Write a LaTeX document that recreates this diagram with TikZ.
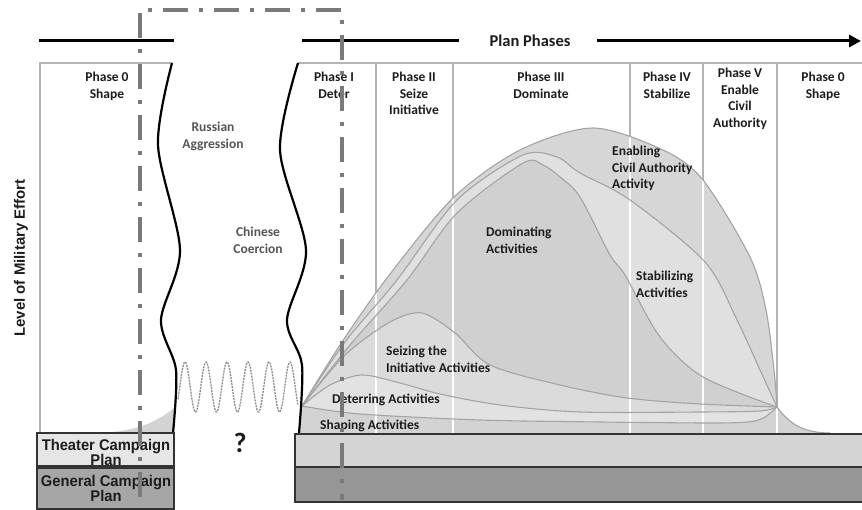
\documentclass[tikz,border=0pt]{standalone}
\usepackage{fontspec}
\usepackage{graphicx}
\setmainfont{Carlito}
\newfontfamily\arialf{Liberation Sans}
\usetikzlibrary{arrows.meta}
\definecolor{frameg}{HTML}{B4B4B4}
\definecolor{curveg}{HTML}{A4A4A4}
\definecolor{ddgray}{HTML}{7A7A7A}
\definecolor{sineg}{HTML}{8E8E8E}
\definecolor{fenab}{HTML}{D6D6D6}
\definecolor{fstab}{HTML}{E0E0E0}
\definecolor{fdom}{HTML}{D0D0D0}
\definecolor{fseize}{HTML}{DBDBDB}
\definecolor{fdeter}{HTML}{E2E2E2}
\definecolor{fshape}{HTML}{D3D3D3}
\definecolor{bartl}{HTML}{E6E6E6}
\definecolor{bartr}{HTML}{D4D4D4}
\definecolor{bargl}{HTML}{A6A6A6}
\definecolor{bargr}{HTML}{969696}
\definecolor{txt}{HTML}{1C1C1C}
\definecolor{txtg}{HTML}{555555}
\begin{document}
\begin{tikzpicture}[x=1pt,y=-1pt,
  phase/.style={font=\bfseries\fontsize{13.5}{16.5}\selectfont, text=txt, align=center, anchor=north, inner sep=0pt},
  act/.style={font=\bfseries\fontsize{13.5}{16.5}\selectfont, text=txt, align=left, anchor=north west, inner sep=0pt},
  conflict/.style={font=\bfseries\fontsize{13.5}{16.5}\selectfont, text=txtg, align=center, anchor=north, inner sep=0pt},
  frameline/.style={draw=frameg, line width=1.3pt},
  curve/.style={draw=curveg, line width=1.1pt},
  wavy/.style={draw=black, line width=2.2pt},
  sine/.style={draw=sineg, line width=1.3pt, dash pattern=on 2pt off 1pt},
  dashdot/.style={draw=ddgray, line width=4pt, dash pattern=on 25pt off 11pt on 4pt off 11pt},
  bar/.style={draw=black!80, line width=1.5pt},
  bartext/.style={font=\arialf\bfseries\fontsize{15.5}{12.5}\selectfont, text=txt, align=center, anchor=north, inner sep=0pt},
  topline/.style={draw=black, line width=3pt}
]
\useasboundingbox (0,0) rectangle (862,510);

% frame
\draw[frameline] (40,433) -- (40,63) -- (172,63);
\draw[frameline] (298,63) -- (864,63);
\foreach \x in {376,453,630,703,777} \draw[frameline] (\x,63) -- (\x,433);

% left tail
\fill[fshape] (100,433) .. controls (140,431) and (160,420) .. (175,407) -- (174,433) -- cycle;

% fills
\fill[fenab] (299,433) -- plot[smooth] coordinates {(302,406) (340,345) (387,278) (453,198) (520,150) (593,128) (663,150) (703,180) (750,257) (766,310) (774,370) (777,407)} .. controls (790,425) and (805,433) .. (830,433) -- cycle;
\fill[fstab] (299,433) -- plot[smooth] coordinates {(302,406) (345,342) (397,280) (457,200) (523,155) (557,157) (580,173) (630,200) (705,262) (737,320) (760,370) (777,407)} -- (777,433) -- cycle;
\fill[fdom] (299,433) -- plot[smooth] coordinates {(302,406) (350,345) (407,280) (457,213) (523,163) (543,165) (560,177) (580,197) (610,255) (625,275) (660,337) (703,377) (777,407)} -- (777,433) -- cycle;
\fill[fseize] (299,433) -- plot[smooth] coordinates {(302,406) (345,355) (390,322) (422,313) (455,333) (490,365) (560,385) (627,398) (700,404) (777,407)} -- (777,433) -- cycle;
\fill[fdeter] (299,433) -- plot[smooth] coordinates {(302,406) (330,385) (362,375) (400,383) (440,394) (500,405) (580,412) (700,412) (760,411) (777,407)} -- (777,433) -- cycle;
\fill[fshape] (299,433) -- plot[smooth] coordinates {(302,406) (360,414) (480,420) (600,422) (700,423)} .. controls (760,423) .. (777,407) .. controls (790,425) and (805,433) .. (830,433) -- cycle;

% white phase lines inside the filled area
\begin{scope}
\clip (299,433) -- plot[smooth] coordinates {(302,406) (340,345) (387,278) (453,198) (520,150) (593,128) (663,150) (703,180) (750,257) (766,310) (774,370) (777,407)} .. controls (790,425) and (805,433) .. (830,433) -- cycle;
\foreach \x in {376,453,630,703,777} \draw[white, line width=1.6pt] (\x,63) -- (\x,433);
\end{scope}

% curve strokes
\draw[curve] plot[smooth] coordinates {(302,406) (340,345) (387,278) (453,198) (520,150) (593,128) (663,150) (703,180) (750,257) (766,310) (774,370) (777,407)} .. controls (790,425) and (805,433) .. (830,433);
\draw[curve] plot[smooth] coordinates {(302,406) (345,342) (397,280) (457,200) (523,155) (557,157) (580,173) (630,200) (705,262) (737,320) (760,370) (777,407)};
\draw[curve] plot[smooth] coordinates {(302,406) (350,345) (407,280) (457,213) (523,163) (543,165) (560,177) (580,197) (610,255) (625,275) (660,337) (703,377) (777,407)};
\draw[curve] plot[smooth] coordinates {(302,406) (345,355) (390,322) (422,313) (455,333) (490,365) (560,385) (627,398) (700,404) (777,407)};
\draw[curve] plot[smooth] coordinates {(302,406) (330,385) (362,375) (400,383) (440,394) (500,405) (580,412) (700,412) (760,411) (777,407)};
\draw[curve] plot[smooth] coordinates {(302,406) (360,414) (480,420) (600,422) (700,423)} .. controls (760,423) .. (777,407);

% phase labels
\node[phase] (ph0a) at (107,72) {Phase 0\\Shape};
\node[phase] (ph1) at (334,72) {Phase I\\Deter};
\node[phase] (ph2) at (414,72) {Phase II\\Seize\\Initiative};
\node[phase] (ph3) at (541,72) {Phase III\\Dominate};
\node[phase] (ph4) at (667,72) {Phase IV\\Stabilize};
\node[phase] (ph5) at (740,68) {Phase V\\Enable\\Civil\\Authority};
\node[phase] (ph0b) at (823,72) {Phase 0\\Shape};

% conflict labels
\node[conflict] (rus) at (213,122) {Russian\\Aggression};
\node[conflict] (chn) at (258,227) {Chinese\\Coercion};

% activity labels
\node[act] (aenab) at (612,146) {Enabling\\Civil Authority\\Activity};
\node[act] (adom) at (486,227) {Dominating\\Activities};
\node[act] (astab) at (636,271) {Stabilizing\\Activities};
\node[act] (aseize) at (386,346) {Seizing the\\Initiative Activities};
\node[act] (adeter) at (332,394) {Deterring Activities};
\node[act] (ashape) at (320,420) {Shaping Activities};

% y axis label
\node[font=\arialf\bfseries\fontsize{15}{18}\selectfont, text=txt, rotate=90, inner sep=0pt] (ylab) at (21,258) {Level of Military Effort};

% wavy borders
\draw[wavy] plot[smooth] coordinates {(172,63) (158,145) (180,250) (161,320) (176,370) (173,433)};
\draw[wavy] plot[smooth] coordinates {(298,63) (280,150) (306,250) (287,320) (302,365) (299,433)};

% sinusoid
\draw[sine] plot[domain=178:298, samples=240, smooth] (\x,{387-25*cos(17.142857*(\x-185))});

% question mark
\node[font=\bfseries\fontsize{28}{30}\selectfont, text=txt, inner sep=0pt] (qm) at (240,443) {?};

% bars
\draw[bar, fill=bartl] (37,433) rectangle (174,466);
\draw[bar, fill=bargl] (37,468) rectangle (174,509);
\draw[bar, fill=bartr] (295,434) rectangle (866,467);
\draw[bar, fill=bargr] (295,467) rectangle (866,502);
\node[bartext] (tcp) at (106,439) {\scalebox{0.95}[1]{Theater Campaign}\\\scalebox{0.95}[1]{Plan}};
\node[bartext] (gcp) at (106,475) {\scalebox{0.95}[1]{General Campaign}\\\scalebox{0.95}[1]{Plan}};

% top plan phases line
\coordinate (tl1) at (39,41);
\coordinate (tl2) at (174,41);
\coordinate (tr1) at (302,41);
\coordinate (tr2) at (459,41);
\coordinate (ta1) at (597,41);
\coordinate (ta2) at (861,41);
\draw[topline] (tl1) -- (tl2);
\draw[topline] (tr1) -- (tr2);
\draw[topline, -{Triangle[length=12pt,width=12pt]}] (ta1) -- (ta2);
\node[font=\bfseries\fontsize{16.5}{19}\selectfont, text=txt, inner sep=0pt] (pp) at (530,41) {Plan Phases};

% dash-dot frame
\draw[dashdot] (140,497) -- (140,10) -- (342,10) -- (342,500);
\end{tikzpicture}
\end{document}
